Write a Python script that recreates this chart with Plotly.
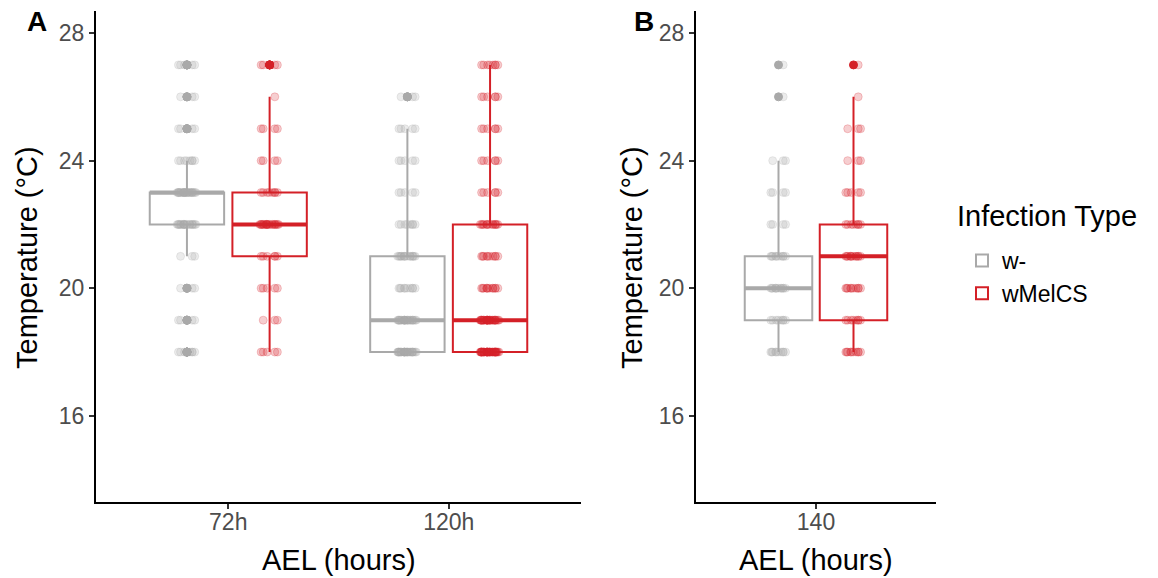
import numpy as np
import plotly.graph_objects as go

# ---------------- data ----------------
temps = [18, 19, 20, 21, 22, 23, 24, 25, 26, 27]
groups = ["w-", "wMelCS"]
panel_a_times = ["72h", "120h"]
panel_b_times = ["140"]

# number of observations at each temperature level
w_minus_72h = [8, 4, 3, 3, 20, 25, 8, 4, 3, 5]
wmelcs_72h = [5, 3, 5, 6, 20, 8, 4, 4, 1, 4]
w_minus_120h = [30, 25, 10, 15, 8, 5, 5, 5, 3, 0]
wmelcs_120h = [40, 30, 12, 10, 14, 6, 6, 6, 6, 8]
w_minus_140 = [10, 8, 12, 10, 4, 4, 3, 0, 1, 1]
wmelcs_140 = [10, 8, 10, 12, 8, 5, 3, 3, 1, 1]

panel_a_counts = {"w-": [w_minus_72h, w_minus_120h], "wMelCS": [wmelcs_72h, wmelcs_120h]}
panel_b_counts = {"w-": [w_minus_140], "wMelCS": [wmelcs_140]}

# ---------------- styles ----------------
colors = {"w-": "#A9A9A9", "wMelCS": "#D42027"}
faint = {"w-": "rgba(169,169,169,0.22)", "wMelCS": "rgba(212,32,39,0.22)"}
dodge = {"w-": -0.1875, "wMelCS": 0.1875}
box_w = 0.3375
FONT = "Liberation Sans, Arial, sans-serif"
W, H = 1158, 578

fig = go.Figure()


def add_panel(times, counts, xa, ya, show_legend):
    for g in groups:
        for i, t in enumerate(times):
            vals = np.repeat(temps, counts[g][i]).astype(float)
            pos = i + 1 + dodge[g]
            q1, med, q3 = np.percentile(vals, [25, 50, 75])
            iqr = q3 - q1
            lf = vals[vals >= q1 - 1.5 * iqr].min()
            uf = vals[vals <= q3 + 1.5 * iqr].max()
            outl = vals[(vals < lf) | (vals > uf)]
            # jittered points (library jitter), one invisible box per level
            for temp, n in zip(temps, counts[g][i]):
                if n == 0:
                    continue
                fig.add_trace(go.Box(
                    x=[pos] * n, y=[temp] * n, xaxis=xa, yaxis=ya,
                    boxpoints="all", jitter=0.27, pointpos=0, width=box_w,
                    line=dict(width=0, color="rgba(0,0,0,0)"), fillcolor="rgba(0,0,0,0)",
                    marker=dict(color=faint[g], size=8, line=dict(color=faint[g], width=1)),
                    showlegend=False, hoverinfo="skip"))
            # box
            fig.add_trace(go.Box(
                x=[pos], q1=[q1], median=[med], q3=[q3], lowerfence=[lf], upperfence=[uf],
                xaxis=xa, yaxis=ya, width=box_w, whiskerwidth=0, boxpoints=False,
                line=dict(color=colors[g], width=2), fillcolor="rgba(255,255,255,0)",
                name=g, legendgroup=g, showlegend=(show_legend and i == 0),
                hoverinfo="skip"))
            # thick median line
            fig.add_trace(go.Scatter(
                x=[pos - box_w / 2, pos + box_w / 2], y=[med, med], xaxis=xa, yaxis=ya,
                mode="lines", line=dict(color=colors[g], width=4),
                showlegend=False, hoverinfo="skip"))
            # outliers
            if len(outl):
                fig.add_trace(go.Scatter(
                    x=[pos] * len(outl), y=outl, xaxis=xa, yaxis=ya, mode="markers",
                    marker=dict(color=colors[g], size=8, line=dict(color=colors[g], width=1)),
                    showlegend=False, hoverinfo="skip"))


add_panel(panel_a_times, panel_a_counts, "x", "y", True)
add_panel(panel_b_times, panel_b_counts, "x2", "y2", False)

ydom = [1 - 502 / H, 1 - 10.7 / H]
yrange = [13.3, 28.7]
ytick = [16, 20, 24, 28]

axis_common = dict(showline=True, linecolor="black", linewidth=2, ticks="outside",
                   ticklen=5, tickwidth=2, tickcolor="#333333", showgrid=False,
                   zeroline=False, tickfont=dict(family=FONT, size=23, color="#4D4D4D"))

fig.update_layout(
    width=W, height=H, autosize=False,
    margin=dict(l=0, r=0, t=0, b=0),
    plot_bgcolor="white", paper_bgcolor="white",
    font=dict(family=FONT),
    xaxis=dict(domain=[96 / W, 581 / W], range=[0.4, 2.6],
               tickvals=[i + 1 for i in range(len(panel_a_times))], ticktext=panel_a_times,
               anchor="y", ticklabelstandoff=-7, **axis_common),
    yaxis=dict(domain=ydom, range=yrange, tickvals=ytick, anchor="x", **axis_common),
    xaxis2=dict(domain=[696 / W, 936 / W], range=[0.4, 1.6],
                tickvals=[i + 1 for i in range(len(panel_b_times))], ticktext=panel_b_times,
                anchor="y2", ticklabelstandoff=-7, **axis_common),
    yaxis2=dict(domain=ydom, range=yrange, tickvals=ytick, anchor="x2", **axis_common),
    legend=dict(x=962 / W, y=1 - 239 / H, xanchor="left", yanchor="top",
                font=dict(family=FONT, size=23, color="black"),
                bgcolor="rgba(0,0,0,0)", tracegroupgap=0),
    showlegend=True,
)

annos = [
    dict(text="<b>A</b>", x=25 / W, y=1 - 21 / H, xanchor="left", yanchor="middle", size=28),
    dict(text="<b>B</b>", x=632 / W, y=1 - 21 / H, xanchor="left", yanchor="middle", size=28),
    dict(text="Temperature (°C)", x=27 / W, y=1 - 258 / H, xanchor="center", yanchor="middle",
         size=29, angle=-90),
    dict(text="Temperature (°C)", x=632 / W, y=1 - 258 / H, xanchor="center", yanchor="middle",
         size=29, angle=-90),
    dict(text="AEL (hours)", x=338.5 / W, y=1 - 560 / H, xanchor="center", yanchor="middle", size=29),
    dict(text="AEL (hours)", x=816 / W, y=1 - 560 / H, xanchor="center", yanchor="middle", size=29),
    dict(text="Infection Type", x=955 / W, y=1 - 216 / H, xanchor="left", yanchor="middle", size=29),
]
for a in annos:
    fig.add_annotation(text=a["text"], x=a["x"], y=a["y"], xref="paper", yref="paper",
                       xanchor=a["xanchor"], yanchor=a["yanchor"], showarrow=False,
                       textangle=a.get("angle", 0),
                       font=dict(family=FONT, size=a["size"], color="black"))

fig.write_html("out.html", config={"displayModeBar": False},
               post_script="document.body.style.margin='0';document.body.style.padding='0';")
